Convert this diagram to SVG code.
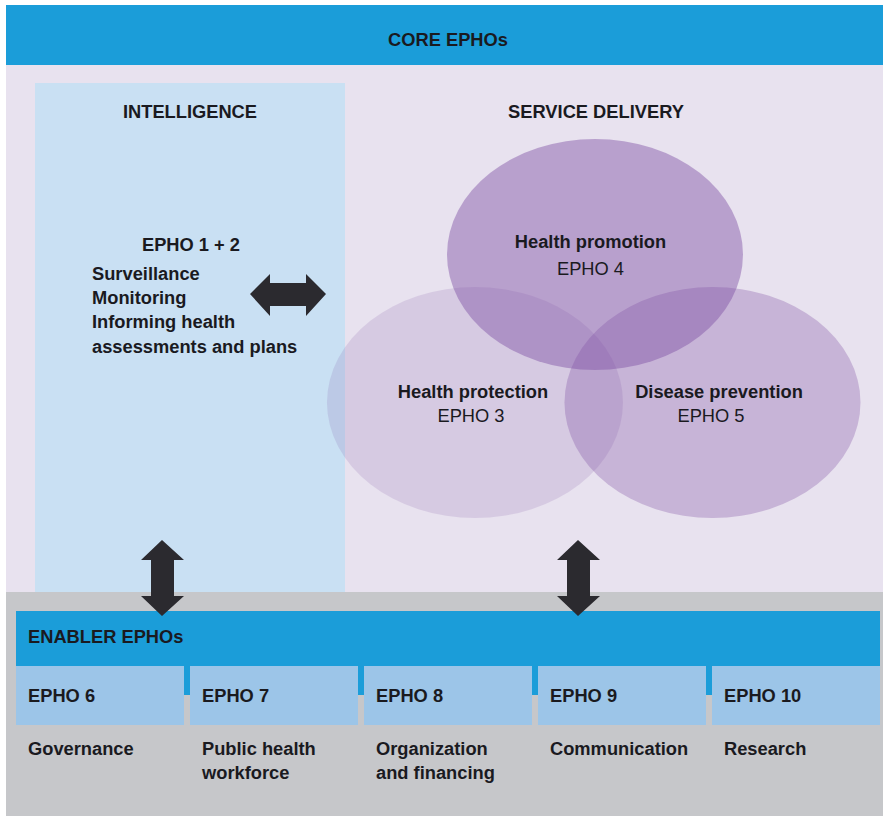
<svg xmlns="http://www.w3.org/2000/svg" width="883" height="816" viewBox="0 0 883 816">
<style>
text{font-family:"Liberation Sans",Arial,sans-serif;fill:#1a1a1f;font-size:18.3px}
.b{font-weight:bold}
.m{text-anchor:middle}
.blue{fill:#1b9dd9}
.box{fill:#9cc5e8}
.arrow{fill:#2b2a2f}
.circ{fill:#7e4fa3}
</style>
<rect x="0" y="0" width="883" height="816" fill="#ffffff"/>
<g id="core">
<rect class="blue" x="6" y="5" width="877" height="60"/>
<text class="b m" x="448" y="46">CORE EPHOs</text>
<rect x="6" y="65" width="877" height="527" fill="#e8e2ef"/>
</g>
<g id="intelligence">
<rect x="35" y="83" width="310" height="509" fill="#c9e0f3"/>
<text class="b m" x="190" y="118">INTELLIGENCE</text>
<text class="b m" x="191" y="251">EPHO 1 + 2</text>
<text class="b" x="92" y="280">Surveillance</text>
<text class="b" x="92" y="304">Monitoring</text>
<text class="b" x="92" y="328">Informing health</text>
<text class="b" x="92" y="353">assessments and plans</text>
</g>
<g id="service-delivery">
<text class="b m" x="596" y="118">SERVICE DELIVERY</text>
</g>
<g id="health-protection">
<ellipse class="circ" cx="475" cy="402.5" rx="148" ry="115.5" fill-opacity="0.16"/>
</g>
<g id="disease-prevention">
<ellipse class="circ" cx="712.5" cy="402.5" rx="148" ry="115.5" fill-opacity="0.31"/>
</g>
<g id="health-promotion">
<ellipse class="circ" cx="595" cy="254.5" rx="148" ry="115.5" fill-opacity="0.45"/>
<text class="b m" x="590.5" y="248">Health promotion</text>
<text class="m" x="590.5" y="275">EPHO 4</text>
</g>
<g id="labels-lower">
<text class="b m" x="473" y="398">Health protection</text>
<text class="m" x="471" y="422">EPHO 3</text>
<text class="b m" x="719" y="398">Disease prevention</text>
<text class="m" x="711" y="422">EPHO 5</text>
</g>
<g id="enabler">
<rect x="6" y="592" width="877" height="224" fill="#c6c7ca"/>
<rect class="blue" x="16" y="611" width="864" height="84"/>
<rect x="16" y="695" width="864" height="30" fill="#c6c7ca"/>
<text class="b" x="28" y="643">ENABLER EPHOs</text>
</g>
<g id="epho6">
<rect class="box" x="16" y="666" width="168" height="59"/>
<text class="b" x="28" y="702">EPHO 6</text>
<text class="b" x="28" y="755">Governance</text>
</g>
<g id="epho7">
<rect class="box" x="190" y="666" width="168" height="59"/>
<text class="b" x="202" y="702">EPHO 7</text>
<text class="b" x="202" y="755">Public health</text>
<text class="b" x="202" y="779">workforce</text>
</g>
<g id="epho8">
<rect class="box" x="364" y="666" width="168" height="59"/>
<text class="b" x="376" y="702">EPHO 8</text>
<text class="b" x="376" y="755">Organization</text>
<text class="b" x="376" y="779">and financing</text>
</g>
<g id="epho9">
<rect class="box" x="538" y="666" width="168" height="59"/>
<text class="b" x="550" y="702">EPHO 9</text>
<text class="b" x="550" y="755">Communication</text>
</g>
<g id="epho10">
<rect class="box" x="712" y="666" width="168" height="59"/>
<text class="b" x="724" y="702">EPHO 10</text>
<text class="b" x="724" y="755">Research</text>
</g>
<g id="connectors">
<path class="arrow" d="M250,294 L270,274 L270,283 L306,283 L306,274 L326,294 L306,316 L306,306 L270,306 L270,316 Z"/>
<path class="arrow" d="M162,540 L184,560 L174,560 L174,596 L184,596 L162,616 L141,596 L151,596 L151,560 L141,560 Z"/>
<path class="arrow" d="M578,540 L600,560 L590,560 L590,596 L600,596 L578,616 L557,596 L567,596 L567,560 L557,560 Z"/>
</g>
</svg>
